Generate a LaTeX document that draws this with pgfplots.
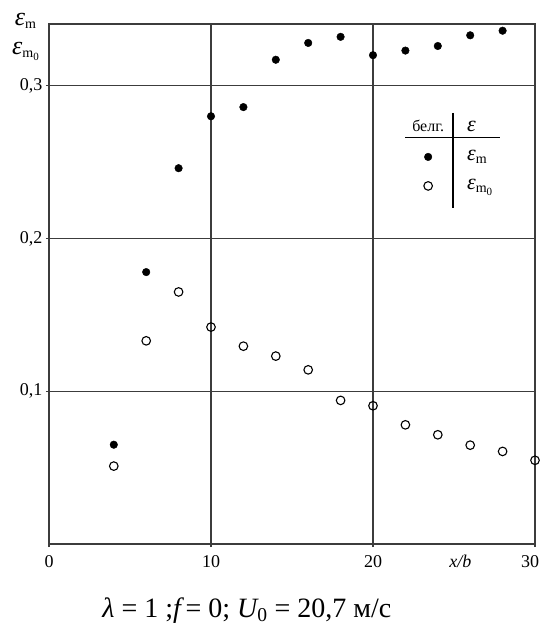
\documentclass[border=0pt]{standalone}
\usepackage{fontspec}
\setmainfont{Liberation Serif}
\usepackage{pgfplots}
\usepackage{pgfplotstable}
\pgfplotsset{compat=1.18}
\definecolor{gridc}{RGB}{60,60,60}

\pgfplotstableread{
x y
4 0.065
6 0.178
8 0.246
10 0.280
12 0.286
14 0.317
16 0.328
18 0.332
20 0.320
22 0.323
24 0.326
26 0.333
28 0.336
}\epsm

\pgfplotstableread{
x y
4 0.051
6 0.133
8 0.165
10 0.142
12 0.1295
14 0.123
16 0.114
18 0.094
20 0.0905
22 0.078
24 0.0715
26 0.0647
28 0.0606
30 0.0548
}\epsmo

\newcommand\epsbig[1]{{\fontsize{#1}{#1}\selectfont\itshape ε}}
\newcommand\subm{{\fontsize{14}{14}\selectfont\raisebox{-3pt}{m}}}
\newcommand\submo{{\fontsize{14}{14}\selectfont\raisebox{-3pt}{m{\fontsize{11}{11}\selectfont\raisebox{-3pt}{0}}}}}

\begin{document}
\begin{tikzpicture}
\begin{axis}[
  scale only axis, width=486pt, height=520pt,
  xmin=0, xmax=30, ymin=0, ymax=0.3404,
  axis line style={gridc, line width=1.3pt},
  grid=major, major grid style={gridc, line width=1.3pt},
  xtick={0,10,20,30}, xticklabels={0,10,20,{\hspace*{-10pt}30}},
  ytick={0.1,0.2,0.3}, yticklabels={{0,1},{0,2},{0,3}},
  tick style={gridc, line width=1.3pt},
  tick align=outside, major tick length=3pt, tickpos=left,
  ticklabel style={font=\fontsize{18}{20}\selectfont},
  xticklabel style={anchor=base, yshift=-20pt},
  clip=false,
  legend image code/.code={\path[draw=none, fill=none] (0pt,-6pt) rectangle (48pt,6pt); \draw[#1] plot coordinates {(24pt,0pt)};},
  legend style={draw=none, fill=none, inner sep=0pt, at={(axis cs:21.91,0.2797)}, anchor=north west,
    row sep=7pt, nodes={inner sep=1pt, text height=14pt, text depth=6pt},
    /tikz/every odd column/.append style={column sep=14pt}},
  legend cell align=left,
]
\coordinate (bl) at (rel axis cs:0,0);
\coordinate (tr) at (rel axis cs:1,1);
\addlegendimage{legend image code/.code={\path[draw=none, fill=none] (0pt,-6pt) rectangle (48pt,6pt); \node[draw=none, font=\fontsize{16}{18}\selectfont, inner sep=0pt, anchor=base] at (24pt,-4pt) {белг.};}}
\addplot[only marks, mark=*, mark size=3.8pt, black] table {\epsm};
\addplot[only marks, mark=o, mark size=4.3pt, mark options={line width=1.1pt}, black] table {\epsmo};
\legend{\epsbig{22}, \epsbig{22}\subm, \epsbig{22}\submo}
\draw[black, line width=1.2pt] (axis cs:24.94,0.2823) -- (axis cs:24.94,0.2197);
\draw[black, line width=1.0pt] (axis cs:21.98,0.266) -- (axis cs:27.84,0.266);
\node[anchor=base, font=\fontsize{18}{20}\selectfont\itshape, inner sep=0pt] at (axis cs:25.4,0) [yshift=-23pt] {x/b};
\node[anchor=base, font=\fontsize{28}{30}\selectfont, inner sep=0pt] at (axis cs:12.22,0) [yshift=-73pt]
  {{\itshape λ} = 1 ;{\itshape f}\,= 0; {\itshape U}\textsubscript{0} = 20,7 м/с};
\node[anchor=base, inner sep=0pt] at (rel axis cs:0,1) [xshift=-23.5pt, yshift=-2pt] {\epsbig{26}\subm};
\node[anchor=base, inner sep=0pt] at (rel axis cs:0,1) [xshift=-23.5pt, yshift=-31pt] {\epsbig{26}\submo};
\end{axis}
\pgfresetboundingbox
\path[use as bounding box] ([shift={(-49pt,-83pt)}]bl) rectangle ([shift={(7pt,24pt)}]tr);
\end{tikzpicture}
\end{document}
